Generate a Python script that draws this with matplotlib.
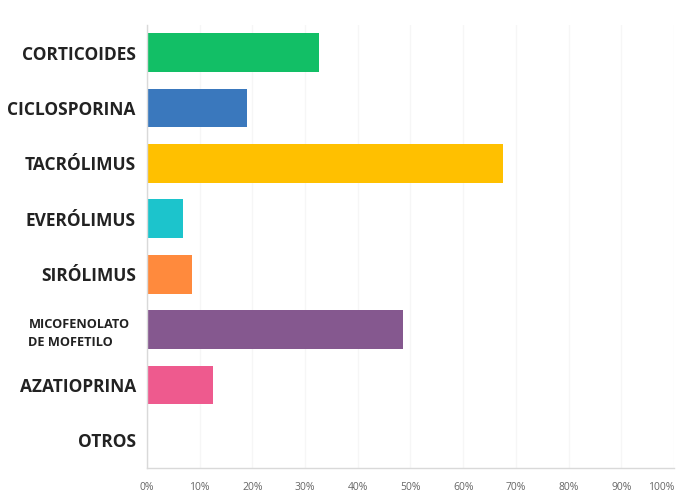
import matplotlib
matplotlib.use("Agg")
import matplotlib.pyplot as plt
from matplotlib.ticker import FuncFormatter

categories = [
    "CORTICOIDES",
    "CICLOSPORINA",
    "TACRÓLIMUS",
    "EVERÓLIMUS",
    "SIRÓLIMUS",
    "MICOFENOLATO\nDE MOFETILO",
    "AZATIOPRINA",
    "OTROS",
]
percentages = [32.6, 19.0, 67.6, 6.8, 8.5, 48.6, 12.5, 0.0]
bar_colors = ["#12BF66", "#3A78BD", "#FFC000", "#1CC4CC",
              "#FF8A3D", "#85588F", "#EE5A8E", "#999999"]
x_ticks = [0, 10, 20, 30, 40, 50, 60, 70, 80, 90, 100]

plt.rcParams["font.family"] = ["Open Sans", "DejaVu Sans"]

fig = plt.figure(figsize=(6.77, 4.95), dpi=100)
ax = fig.add_axes([0.2171, 0.0545, 0.7785, 0.895])

positions = list(range(len(categories)))
ax.barh(positions, percentages, height=0.7, color=bar_colors, zorder=2)

ax.set_ylim(len(categories) - 0.5, -0.5)
ax.set_xlim(0, 100)
ax.set_yticks(positions)
ax.set_yticklabels(categories)
for label in ax.get_yticklabels():
    label.set_fontweight("bold")
    label.set_color("#222222")
    if "\n" in label.get_text():
        # two-line label, left-aligned block
        label.set_fontsize(9.2)
        label.set_linespacing(1.5)
        label.set_multialignment("left")
        label.set_x(-0.012)
    else:
        label.set_fontsize(12.5)

ax.set_xticks(x_ticks)
ax.xaxis.set_major_formatter(FuncFormatter(lambda v, _: f"{v:.0f}%"))
for label in ax.get_xticklabels():
    label.set_fontsize(7.5)
    label.set_color("#666666")
ax.get_xticklabels()[-1].set_horizontalalignment("right")

ax.tick_params(axis="both", length=0)
ax.tick_params(axis="y", pad=8)
ax.tick_params(axis="x", pad=10)

ax.grid(axis="x", color="#F6F6F6", linewidth=1, zorder=0)
for side in ("top", "right"):
    ax.spines[side].set_visible(False)
for side in ("left", "bottom"):
    ax.spines[side].set_color("#D9D9D9")
    ax.spines[side].set_linewidth(1)

fig.savefig("out.png", dpi=100)
